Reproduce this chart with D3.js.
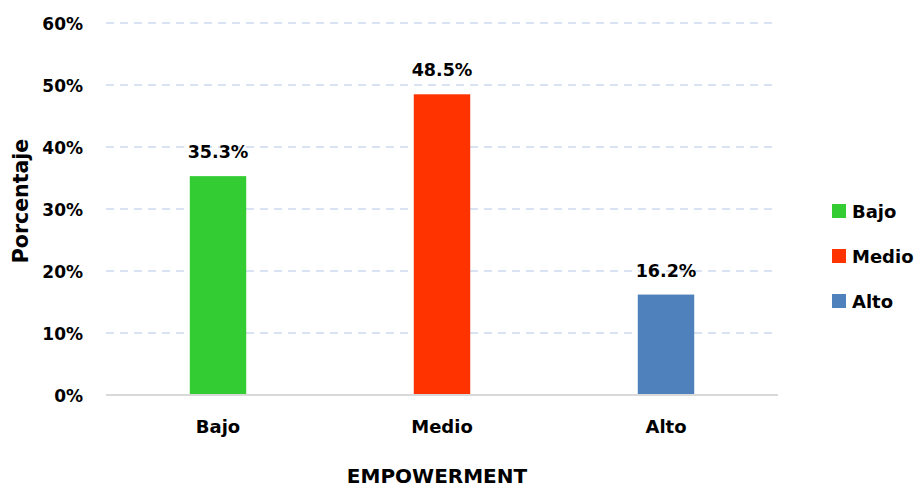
<!DOCTYPE html>
<html>
<head>
<meta charset="utf-8">
<script src="https://cdn.jsdelivr.net/npm/d3@7"></script>
<style>
  html, body { margin: 0; padding: 0; background: #ffffff; }
  svg { display: block; font-family: "DejaVu Sans", sans-serif; font-weight: bold; }
</style>
</head>
<body>
<svg id="chart" width="917" height="488"></svg>
<script>
// Empowerment levels and their share of respondents
const categories = ["Bajo", "Medio", "Alto"];
const values = [0.353, 0.485, 0.162];
const colors = ["#33cc33", "#ff3300", "#4f81bd"];
const yTicks = [0, 0.1, 0.2, 0.3, 0.4, 0.5, 0.6];

const svg = d3.select("#chart");

const plot = { left: 106, right: 778, top: 23, bottom: 395 };

const x = d3.scaleBand()
  .domain(categories)
  .range([plot.left, plot.right])
  .paddingInner(0.748)
  .paddingOuter(0.374);

const y = d3.scaleLinear()
  .domain([0, 0.6])
  .range([plot.bottom, plot.top]);

const pct = d3.format(".0%");
const pct1 = d3.format(".1%");

// dashed horizontal gridlines
svg.append("g")
  .selectAll("line")
  .data(yTicks.filter(d => d > 0))
  .join("line")
  .attr("x1", plot.left)
  .attr("x2", plot.right)
  .attr("y1", d => y(d))
  .attr("y2", d => y(d))
  .attr("stroke", "#dae3f3")
  .attr("stroke-width", 2)
  .attr("stroke-dasharray", "8,6");

// y tick labels
svg.append("g")
  .selectAll("text")
  .data(yTicks)
  .join("text")
  .attr("x", 83)
  .attr("y", d => y(d) + 7)
  .attr("text-anchor", "end")
  .attr("font-size", 17)
  .attr("fill", "#000")
  .text(d => pct(d));

// bars
svg.append("g")
  .selectAll("rect")
  .data(categories)
  .join("rect")
  .attr("x", d => x(d))
  .attr("width", x.bandwidth())
  .attr("y", (d, i) => y(values[i]))
  .attr("height", (d, i) => y(0) - y(values[i]))
  .attr("fill", (d, i) => colors[i]);

// baseline axis
svg.append("line")
  .attr("x1", plot.left)
  .attr("x2", plot.right)
  .attr("y1", y(0))
  .attr("y2", y(0))
  .attr("stroke", "#d9d9d9")
  .attr("stroke-width", 2);

// value labels above bars
svg.append("g")
  .selectAll("text")
  .data(categories)
  .join("text")
  .attr("x", d => x(d) + x.bandwidth() / 2)
  .attr("y", (d, i) => y(values[i]) - 18)
  .attr("text-anchor", "middle")
  .attr("font-size", 17.5)
  .attr("fill", "#000")
  .text((d, i) => pct1(values[i]));

// category labels
svg.append("g")
  .selectAll("text")
  .data(categories)
  .join("text")
  .attr("x", d => x(d) + x.bandwidth() / 2)
  .attr("y", 433)
  .attr("text-anchor", "middle")
  .attr("font-size", 18)
  .attr("fill", "#000")
  .text(d => d);

// axis titles
svg.append("text")
  .attr("x", 437)
  .attr("y", 483)
  .attr("text-anchor", "middle")
  .attr("font-size", 20)
  .attr("fill", "#000")
  .text("EMPOWERMENT");

svg.append("text")
  .attr("transform", "translate(28,201) rotate(-90)")
  .attr("text-anchor", "middle")
  .attr("font-size", 20.5)
  .attr("fill", "#000")
  .text("Porcentaje");

// legend
const legend = svg.append("g")
  .selectAll("g")
  .data(categories)
  .join("g")
  .attr("transform", (d, i) => `translate(832,${204 + i * 45})`);

legend.append("rect")
  .attr("width", 14)
  .attr("height", 14)
  .attr("fill", (d, i) => colors[i]);

legend.append("text")
  .attr("x", 20)
  .attr("y", 14)
  .attr("font-size", 18)
  .attr("fill", "#000")
  .text(d => d);
</script>
</body>
</html>
